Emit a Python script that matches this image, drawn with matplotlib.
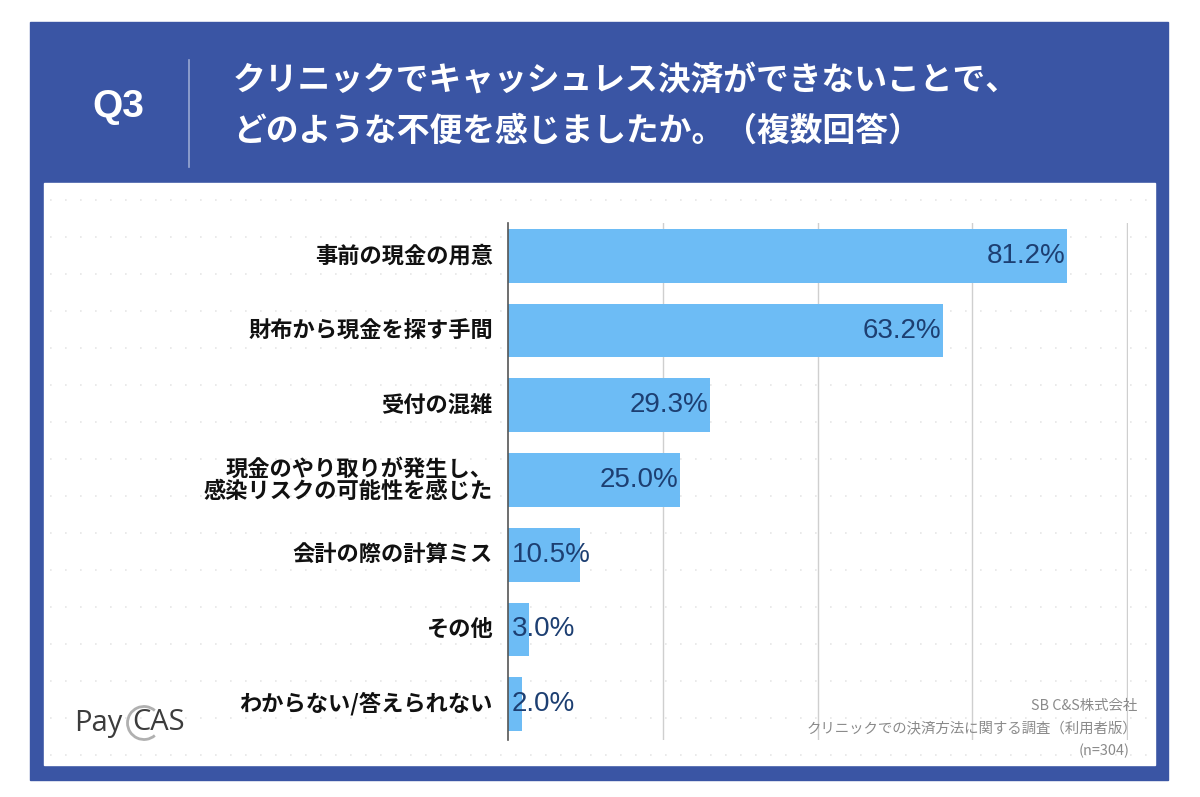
import matplotlib.pyplot as plt
from matplotlib.patches import Rectangle, Arc

plt.rcParams['font.family'] = ['Noto Sans CJK JP', 'DejaVu Sans']

categories = ['事前の現金の用意', '財布から現金を探す手間', '受付の混雑',
              '現金のやり取りが発生し、\n感染リスクの可能性を感じた',
              '会計の際の計算ミス', 'その他', 'わからない/答えられない']
values = [81.2, 63.2, 29.3, 25.0, 10.5, 3.0, 2.0]

blue = '#3a55a4'
bar_color = '#6dbcf5'
label_color = '#1d3f72'

fig = plt.figure(figsize=(12, 7.97), dpi=100)
W, H = 1200, 797

def box(x0, y0, x1, y1, color):
    fig.patches.append(Rectangle((x0 / W, 1 - y1 / H), (x1 - x0) / W, (y1 - y0) / H,
                                 transform=fig.transFigure, color=color, zorder=-10))

box(30, 22, 1168, 780, blue)
box(44, 183, 1155, 765, 'white')

# faint dotted background rows
for yy in range(200, 760, 37):
    fig.add_artist(plt.Line2D([50 / W, 1150 / W], [1 - yy / H, 1 - yy / H],
                              transform=fig.transFigure, color='#e6e6e6',
                              lw=1.2, ls=(0, (1, 8)), zorder=-5))

# header
fig.text(118 / W, 1 - 107 / H, 'Q3', color='white', fontsize=28, fontweight='bold',
         ha='center', va='center', family=['Liberation Sans', 'DejaVu Sans'])
fig.add_artist(plt.Line2D([189 / W, 189 / W], [1 - 60 / H, 1 - 167 / H],
                          transform=fig.transFigure, color='#9aa8d2', lw=1.2))
fig.text(233 / W, 1 - 80 / H, 'クリニックでキャッシュレス決済ができないことで、',
         color='white', fontsize=23.6, fontweight='bold', ha='left', va='center')
fig.text(233 / W, 1 - 131 / H, 'どのような不便を感じましたか。（複数回答）',
         color='white', fontsize=23.6, fontweight='bold', ha='left', va='center')

ax = fig.add_axes([508 / W, 1 - 740 / H, 620 / W, 517 / H])
ax.set_facecolor('none')
y = list(range(len(categories)))
ax.barh(y, values, height=0.72, color=bar_color, zorder=2)
ax.set_xlim(0, 90.1)
ax.set_ylim(6.48, -0.44)
ax.set_xticks([22.5, 45, 67.5, 90])
ax.grid(axis='x', color='#cfcfcf', lw=1, zorder=1)
ax.tick_params(left=False, bottom=False, labelbottom=False, labelleft=False)
for s in ['top', 'right', 'bottom']:
    ax.spines[s].set_visible(False)
ax.spines['left'].set_color('#555555')
ax.spines['left'].set_linewidth(1.2)

for i, (cat, v) in enumerate(zip(categories, values)):
    ax.text(-2.2, i, cat, ha='right', va='center', fontsize=16, fontweight='bold',
            color='#111111', linespacing=0.95)
    if v > 15:
        ax.text(v - 0.2, i, f'{v:.1f}%', ha='right', va='center', fontsize=20,
                color=label_color, zorder=3, family=['Liberation Sans', 'DejaVu Sans'])
    else:
        ax.text(0.5, i, f'{v:.1f}%', ha='left', va='center', fontsize=20,
                color=label_color, zorder=3, family=['Liberation Sans', 'DejaVu Sans'])

# footer
fig.text(1137 / W, 1 - 706 / H, 'SB C&S株式会社', ha='right', va='center',
         fontsize=10.4, color='#8a8a8a')
fig.text(1137 / W, 1 - 729 / H, 'クリニックでの決済方法に関する調査（利用者版）',
         ha='right', va='center', fontsize=10.4, color='#8a8a8a')
fig.text(1130 / W, 1 - 751 / H, '(n=304)', ha='right', va='center',
         fontsize=10.4, color='#8a8a8a')

# logo
fig.text(74 / W, 1 - 723 / H, 'Pay', ha='left', va='center', fontsize=21,
         color='#3c3c3c', family=['Open Sans', 'DejaVu Sans'])
fig.text(132 / W, 1 - 723 / H, 'CAS', ha='left', va='center', fontsize=21,
         color='#3c3c3c', family=['Open Sans', 'DejaVu Sans'])
fig.add_artist(Arc((144 / W, 1 - 723 / H), 33 / W, 33 / H, theta1=60, theta2=300,
                   transform=fig.transFigure, color='#b0b0b0', lw=2))

fig.savefig('out.png', dpi=100, facecolor='white')
